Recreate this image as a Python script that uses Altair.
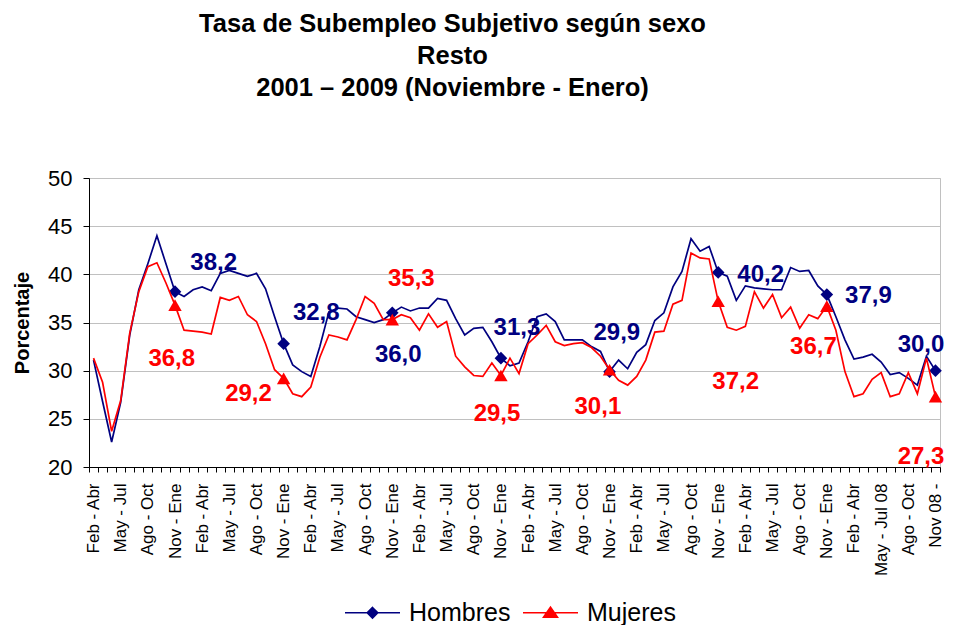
import json
import altair as alt
import pandas as pd

# ---------------- data ----------------
tick_labels = (["Feb - Abr", "May - Jul", "Ago - Oct", "Nov - Ene"] * 7
               + ["Feb - Abr", "May - Jul 08", "Ago - Oct", "Nov 08 -"])

hombres = [31.1, 26.8, 22.6, 26.7, 33.7, 38.4, 41.1, 44.0, 41.1, 38.2,
           37.7, 38.4, 38.7, 38.3, 40.1, 40.4, 40.1, 39.8, 40.1, 38.5,
           35.6, 32.8, 30.6, 29.9, 29.4, 32.5, 36.1, 36.5, 36.4, 35.6,
           35.3, 35.0, 35.3, 36.0, 36.6, 36.2, 36.5, 36.5, 37.5, 37.3,
           35.4, 33.7, 34.4, 34.5, 33.0, 31.3, 30.5, 30.8, 33.0, 35.6,
           35.9, 35.1, 33.2, 33.2, 33.2, 32.5, 32.0, 29.9, 31.1, 30.2,
           31.9, 32.7, 35.2, 36.0, 38.7, 40.3, 43.7, 42.4, 42.9, 40.2,
           39.8, 37.3, 38.8, 38.6, 38.5, 38.4, 38.4, 40.7, 40.3, 40.4,
           38.8, 37.9, 35.6, 33.2, 31.2, 31.4, 31.7, 30.9, 29.6, 29.8,
           29.2, 28.5, 31.5, 30.0]

mujeres = [31.3, 28.8, 23.7, 26.9, 33.9, 38.2, 40.8, 41.2, 39.1, 36.8,
           34.2, 34.1, 34.0, 33.8, 37.6, 37.3, 37.7, 35.8, 35.1, 32.8,
           30.1, 29.2, 27.6, 27.3, 28.3, 31.4, 33.7, 33.5, 33.2, 35.3,
           37.7, 37.0, 35.3, 35.3, 35.8, 35.5, 34.2, 35.9, 34.5, 35.1,
           31.5, 30.4, 29.5, 29.4, 30.8, 29.5, 31.3, 29.7, 32.8, 33.7,
           34.7, 33.0, 32.6, 32.8, 32.9, 32.4, 31.5, 30.1, 29.0, 28.5,
           29.4, 31.1, 34.0, 34.1, 36.9, 37.3, 42.2, 41.7, 41.6, 37.2,
           34.5, 34.2, 34.6, 38.2, 36.5, 37.9, 35.5, 36.6, 34.4, 35.8,
           35.4, 36.7, 34.2, 29.9, 27.3, 27.6, 29.1, 29.8, 27.3, 27.6,
           29.8, 27.6, 31.3, 27.3]

series = ["Hombres", "Mujeres"]
y_ticks = [20, 25, 30, 35, 40, 45, 50]
marker_idx = list(range(9, 94, 12))  # Nov - Ene points

# ---------------- layout / style ----------------
# label offsets (category steps, percentage points) from each marked point
lab_off_h = [(4.27, 2.94), (3.6, 3.18), (0.66, -4.38), (1.77, 3.12),
             (0.8, 4.0), (4.69, -0.27), (4.59, -0.16), (-1.6, 2.66)]
lab_off_m = [(-0.36, -5.6), (-3.88, -1.63), (2.1, 4.2), (-0.43, -4.0),
             (-1.29, -3.88), (1.93, -8.38), (-1.48, -4.25), (-1.6, -6.27)]

NAVY = "#000080"
RED = "#ff0000"
FONT = "Liberation Sans"
N = len(hombres)
W, H = 851, 289

rows = []
for s, vals in zip(series, [hombres, mujeres]):
    for i, v in enumerate(vals):
        rows.append({"i": i, "serie": s, "valor": v})
df = pd.DataFrame(rows)
df_h = df[df.serie == "Hombres"]
df_m = df[df.serie == "Mujeres"]
df_ph = df_h[df_h.i.isin(marker_idx)]
df_pm = df_m[df_m.i.isin(marker_idx)]


def label_df(vals, offs):
    out = []
    for k, i in enumerate(marker_idx):
        v = vals[i]
        out.append({"lx": i + offs[k][0], "valor": v + offs[k][1],
                    "txt": f"{v:.1f}".replace(".", ",")})
    return pd.DataFrame(out)


df_lh = label_df(hombres, lab_off_h)
df_lm = label_df(mujeres, lab_off_m)

label_expr = ("datum.value % 3 === 0 ? " + json.dumps(tick_labels, ensure_ascii=False)
              + "[datum.value / 3] : ''")

xenc = alt.X("i:O",
             scale=alt.Scale(type="band", paddingInner=0, paddingOuter=0,
                             domain=list(range(N))),
             axis=alt.Axis(title=None, labelExpr=label_expr, labelAngle=270,
                           labelAlign="right", labelBaseline="middle",
                           labelFontSize=17, labelFont=FONT, labelColor="black",
                           labelPadding=11, labelOverlap=False, tickBand="extent",
                           tickSize=5, tickColor="black", domainColor="black",
                           grid=False))

yaxis = alt.Axis(values=y_ticks, title="Porcentaje", titleFont=FONT,
                 titleFontSize=20, titleFontWeight="bold", titleColor="black",
                 titlePadding=15, labelFont=FONT, labelFontSize=22,
                 labelColor="black", labelPadding=11, tickSize=6,
                 tickColor="black", domainColor="black", gridColor="#c0c0c0",
                 grid=True)
yscale = alt.Scale(domain=[20, 50], nice=False, zero=False)
yenc = alt.Y("valor:Q", scale=yscale, axis=yaxis)

# legend symbols: short line with the series marker in the middle
path_h = "M-3.67,0L3.67,0M0,-0.7L0.7,0L0,0.7L-0.7,0Z"
path_m = "M-3.67,0L3.67,0M0,-0.75L0.93,0.6L-0.93,0.6Z"

legend = alt.Legend(
    title=None, orient="none", legendX=271, legendY=422, direction="horizontal",
    labelFont=FONT, labelFontSize=25, labelColor="black", symbolSize=225,
    symbolStrokeWidth=1.6, symbolOpacity=1,
    labelOffset=24, columnPadding=8, padding=0)

color_scale = alt.Scale(domain=series, range=[NAVY, RED])
legend_layer = alt.Chart(df).transform_filter("false").mark_point(
    filled=True, size=225, strokeWidth=1.6, opacity=1).encode(
    x=xenc, y=yenc,
    color=alt.Color("serie:N", scale=color_scale, legend=legend),
    stroke=alt.Stroke("serie:N", scale=color_scale, legend=legend),
    shape=alt.Shape("serie:N", scale=alt.Scale(domain=series, range=[path_h, path_m]),
                    legend=legend),
)

line_h = alt.Chart(df_h).mark_line(strokeWidth=1.7, color=NAVY).encode(x=xenc, y=yenc)
line_m = alt.Chart(df_m).mark_line(strokeWidth=1.7, color=RED).encode(x=xenc, y=yenc)

pts_h = alt.Chart(df_ph).mark_point(shape="diamond", filled=True, color=NAVY,
                                    opacity=1, size=160).encode(x=xenc, y=yenc)
pts_m = alt.Chart(df_pm).mark_point(shape="triangle-up", filled=True, color=RED,
                                    opacity=1, size=180).encode(x=xenc, y=yenc)

base = alt.layer(line_h, pts_h, line_m, pts_m, legend_layer)

xtext = alt.X("lx:Q", scale=alt.Scale(domain=[-0.5, N - 0.5], nice=False, zero=False),
              axis=None)
txt_h = alt.Chart(df_lh).mark_text(font=FONT, fontSize=24, fontWeight="bold",
                                   color=NAVY, align="center", baseline="middle"
                                   ).encode(x=xtext, y=yenc, text="txt:N")
txt_m = alt.Chart(df_lm).mark_text(font=FONT, fontSize=24, fontWeight="bold",
                                   color=RED, align="center", baseline="middle"
                                   ).encode(x=xtext, y=yenc, text="txt:N")

chart = alt.layer(base, txt_h, txt_m).resolve_scale(x="independent").properties(
    width=W, height=H,
    autosize=alt.AutoSizeParams(type="none"),
    padding={"left": 81, "top": 170, "right": 6, "bottom": 158},
    background="white",
    title=alt.TitleParams(
        text=["Tasa de Subempleo Subjetivo según sexo", "Resto",
              "2001 – 2009 (Noviembre - Enero)"],
        anchor="middle", frame="group", font=FONT, fontSize=25.5,
        fontWeight="bold", color="black", lineHeight=32, offset=66, dx=-62),
).configure_view(stroke="#c0c0c0", strokeWidth=1)

chart.save("out.html", embed_options={"renderer": "svg", "actions": False})
